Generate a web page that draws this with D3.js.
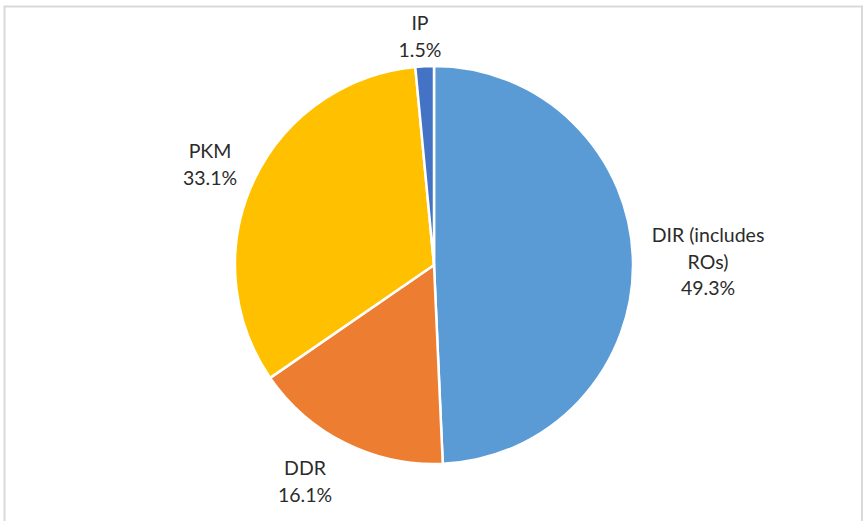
<!DOCTYPE html>
<html><head><meta charset="utf-8">
<script src="https://cdn.jsdelivr.net/npm/d3@7"></script>
<style>body{margin:0;background:#fff}svg{display:block}</style>
</head><body>
<svg id="c" width="864" height="521"></svg>
<script>
const categories = ["DIR (includes ROs)", "DDR", "PKM", "IP"];
const values = [49.3, 16.1, 33.1, 1.5];
const colors = ["#5B9BD5", "#ED7D31", "#FFC000", "#4472C4"];
const labelLines = [["DIR (includes", "ROs)", "49.3%"], ["DDR", "16.1%"], ["PKM", "33.1%"], ["IP", "1.5%"]];
const labelPos = [[708, 242], [305, 475], [210, 158], [420, 30]];

const svg = d3.select("#c");
svg.append("rect").attr("x", 4.5).attr("y", 6.5).attr("width", 857.5).attr("height", 520)
  .attr("fill", "#fff").attr("stroke", "#d9d9d9").attr("stroke-width", 2);

const cx = 434, cy = 265, r = 199;
const pie = d3.pie().sort(null).value(d => d)(values);
const arc = d3.arc().innerRadius(0).outerRadius(r);
const g = svg.append("g").attr("transform", `translate(${cx},${cy})`);
g.selectAll("path").data(pie).join("path")
  .attr("d", arc).attr("fill", (d, i) => colors[i])
  .attr("stroke", "#fff").attr("stroke-width", 2.5).attr("stroke-linejoin", "round");

const lab = svg.append("g").attr("font-family", "Lato, 'Open Sans', sans-serif")
  .attr("font-size", 19.5).attr("fill", "#2b2b2b").attr("text-anchor", "middle");
labelLines.forEach((lines, i) => {
  const t = lab.append("text").attr("x", labelPos[i][0]).attr("y", labelPos[i][1]);
  lines.forEach((s, j) => t.append("tspan").attr("x", labelPos[i][0]).attr("dy", j === 0 ? 0 : 26.5).text(s));
});
</script>
</body></html>
